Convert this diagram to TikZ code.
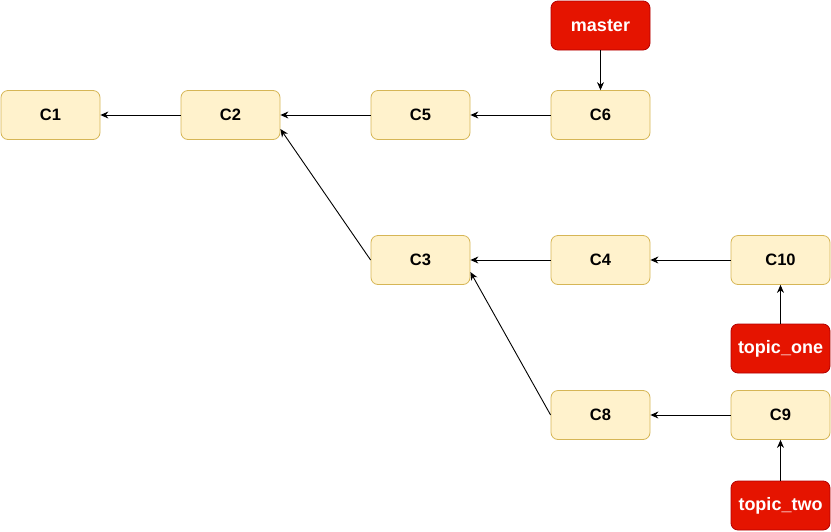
\documentclass[tikz,border=0pt]{standalone}
\usepackage{fontspec}
\setmainfont{Liberation Sans}
\usetikzlibrary{arrows.meta, positioning}
\definecolor{commit_fill}{HTML}{FFF2CC}
\definecolor{commit_line}{HTML}{D6B656}
\definecolor{ref_fill}{HTML}{E51400}
\definecolor{ref_line}{HTML}{B20000}
\begin{document}
\begin{tikzpicture}[
        x=1pt, y=-1pt,
        commit/.style={draw=commit_line, fill=commit_fill, rounded corners=7pt,
                    minimum width=99pt, minimum height=49pt, line width=0.8pt,
                    font=\fontsize{16.5}{18}\selectfont\bfseries, inner sep=0pt},
        branch/.style={commit, draw=ref_line, fill=ref_fill, text=white,
                    font=\fontsize{18}{20}\selectfont\bfseries},
        arr/.style={-{Stealth[length=8pt, width=7pt]}, line width=0.9pt},
      ]
        \useasboundingbox (0,0) rectangle (831,531);
        % main line
        \node[commit] (c1) at (50.5,115) {C1};
        \node[commit] (c2) at (230.5,115) {C2};
        \node[commit] (c5) at (420.5,115) {C5};
        \node[commit] (c6) at (600.5,115) {C6};
        \node[branch] (master) at (600.5,25.5) {master};
        % topic_one
        \node[commit] (c3) at (420.5,260) {C3};
        \node[commit] (c4) at (600.5,260) {C4};
        \node[commit] (c10) at (780.5,260) {C10};
        \node[branch] (topicone) at (780.5,348.5) {topic\_one};
        % topic_two
        \node[commit] (c8) at (600.5,415) {C8};
        \node[commit] (c9) at (780.5,415) {C9};
        \node[branch] (topictwo) at (780.5,505.5) {topic\_two};
        \draw[arr] (c2) -- (c1);
        \draw[arr] (c5) -- (c2);
        \draw[arr] (c6) -- (c5);
        \draw[arr] (master) -- (c6);
        \draw[arr] (c3.west) -- ([yshift=-14pt]c2.east);
        \draw[arr] (c4) -- (c3);
        \draw[arr] (c10) -- (c4);
        \draw[arr] (topicone) -- (c10);
        \draw[arr] (c8.west) -- ([yshift=-12pt]c3.east);
        \draw[arr] (c9) -- (c8);
        \draw[arr] (topictwo) -- (c9);
      \end{tikzpicture}
\end{document}
